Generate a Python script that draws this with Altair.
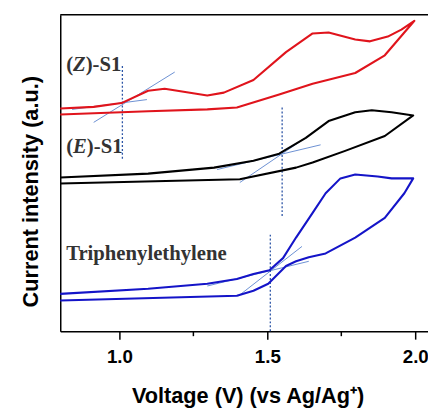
import altair as alt
import pandas as pd

# ---- data (voltage in V, current in a.u.) ----
# (Z)-S1  (red): forward branch then return branch
z_v = [0.800, 0.913, 1.007, 1.097, 1.153, 1.297, 1.353, 1.453, 1.563, 1.653, 1.707, 1.797, 1.847, 1.907, 1.953, 1.997,
       1.897, 1.797, 1.653, 1.540, 1.397, 1.297, 1.097, 0.800]
z_i = [70.4, 70.9, 72.1, 76.0, 76.6, 74.5, 75.4, 79.4, 88.2, 94.1, 94.4, 92.2, 91.6, 93.1, 95.3, 98.1,
       87.2, 81.6, 78.2, 74.8, 70.7, 70.1, 69.5, 68.5]
# (E)-S1  (black)
e_v = [0.800, 1.097, 1.320, 1.453, 1.540, 1.630, 1.707, 1.797, 1.853, 1.920, 1.993,
       1.897, 1.763, 1.653, 1.597, 1.407, 0.800]
e_i = [48.6, 49.8, 51.7, 53.9, 56.1, 61.1, 66.4, 69.2, 69.8, 69.2, 68.2,
       61.7, 57.0, 53.3, 51.7, 48.0, 46.7]
# Triphenylethylene (blue)
t_v = [0.800, 1.097, 1.297, 1.397, 1.453, 1.507, 1.553, 1.597, 1.653, 1.697, 1.747, 1.797, 1.873, 1.920, 1.993,
       1.963, 1.897, 1.797, 1.697, 1.640, 1.597, 1.563, 1.503, 1.453, 1.397, 0.800]
t_i = [11.8, 13.4, 15.0, 16.5, 18.1, 19.3, 23.1, 29.6, 37.4, 43.6, 48.3, 49.5, 48.9, 48.3, 48.3,
       43.6, 35.8, 29.6, 24.6, 23.4, 22.1, 20.6, 15.0, 12.8, 11.2, 9.7]

series_names = ["(Z)-S1", "(E)-S1", "Triphenylethylene"]
series_colors = ["#e0141c", "#000000", "#1414c8"]

# tangent lines (pairs of end points)
tan_seg = ["z1", "z1", "z2", "z2", "e1", "e1", "e2", "e2", "t1", "t1", "t2", "t2"]
tan_v = [0.913, 1.187, 0.840, 1.093, 1.330, 1.680, 1.407, 1.657, 1.297, 1.640, 1.403, 1.617]
tan_i = [66.0, 81.9, 70.1, 73.2, 51.1, 58.9, 47.0, 62.9, 14.3, 22.1, 11.2, 26.8]

# onset potentials (dotted verticals)
onset_v = [1.01, 1.55, 1.51]
onset_lo = [54.5, 36.4, 0.0]
onset_hi = [84.1, 70.7, 30.5]

x_ticks = [1.0, 1.5, 2.0]
x_minor = [1.25, 1.75]

W, H = 373, 321

rows = []
for name, vs, cs in zip(series_names, [z_v, e_v, t_v], [z_i, e_i, t_i]):
    for k, (v, c) in enumerate(zip(vs, cs)):
        rows.append({"series": name, "V": v, "I": c, "k": k})
curves = pd.DataFrame(rows)

tangents = pd.DataFrame({"seg": tan_seg, "V": tan_v, "I": tan_i, "k": list(range(len(tan_v)))})
onsets = pd.DataFrame({"V": onset_v, "I": onset_lo, "I2": onset_hi})
minor = pd.DataFrame({"V": x_minor})
dummy = pd.DataFrame({"V": [1.0]})

x_scale = alt.Scale(domain=[0.8, 2.043], nice=False, zero=False)
y_scale = alt.Scale(domain=[0, 100], nice=False, zero=False)

X = alt.X("V:Q", scale=x_scale, axis=alt.Axis(
    values=x_ticks, format=".1f", title="Voltage (V) (vs Ag/Ag\u207a)",
    grid=False, tickSize=8, tickWidth=1.5, tickColor="black",
    domainWidth=1.5, domainColor="black",
    labelFont="Liberation Sans", labelFontWeight="bold", labelFontSize=19,
    labelColor="black", labelPadding=9,
    titleFont="Liberation Sans", titleFontWeight="bold", titleFontSize=22,
    titleColor="black", titleX=190, titleY=72, titleAlign="center",
    titleBaseline="alphabetic"))
Y = alt.Y("I:Q", scale=y_scale, axis=alt.Axis(
    title="Current intensity (a.u.)", ticks=False, labels=False, grid=False,
    domainWidth=1.5, domainColor="black",
    titleFont="Liberation Sans", titleFontWeight="bold", titleFontSize=22,
    titleColor="black", titleAngle=270, titleX=-23.5, titleY=179,
    titleAlign="center", titleBaseline="alphabetic"))

curve_layer = alt.Chart(curves).mark_line(strokeWidth=2.1, strokeJoin="round").encode(
    x=X, y=Y, order="k:Q",
    color=alt.Color("series:N", scale=alt.Scale(domain=series_names, range=series_colors), legend=None),
)

tan_layer = alt.Chart(tangents).mark_line(strokeWidth=1, color="#6b8fd2").encode(
    x=X, y=Y, detail="seg:N", order="k:Q")

onset_layer = alt.Chart(onsets).mark_rule(strokeDash=[2, 2], strokeWidth=1.3, color="#2d55a6").encode(
    x=X, y=Y, y2="I2:Q")

minor_layer = alt.Chart(minor).mark_rule(color="black", strokeWidth=1.5).encode(
    x=X, y=alt.value(H), y2=alt.value(H + 5))

top_layer = alt.Chart(dummy).mark_rule(color="black", strokeWidth=1.5).encode(
    x=alt.value(0), x2=alt.value(W), y=alt.value(0))


def label(text, v, i, dx=0, italic=False):
    return alt.Chart(pd.DataFrame({"V": [v], "I": [i], "t": [text]})).mark_text(
        font="Liberation Serif", fontWeight="bold", fontSize=21,
        fontStyle="italic" if italic else "normal",
        color="#333333", align="left", baseline="alphabetic", dx=dx,
    ).encode(x=X, y=Y, text="t:N")


label_v = 0.82
z_lab_i, e_lab_i, t_lab_i = 82.2, 56.4, 22.4
labels = [
    label("(", label_v, z_lab_i), label("Z", label_v, z_lab_i, dx=7.0, italic=True),
    label(")-S1", label_v, z_lab_i, dx=19.8),
    label("(", label_v, e_lab_i), label("E", label_v, e_lab_i, dx=7.0, italic=True),
    label(")-S1", label_v, e_lab_i, dx=21.0),
    label("Triphenylethylene", label_v, t_lab_i),
]

chart = alt.layer(top_layer, minor_layer, tan_layer, onset_layer, curve_layer, *labels).properties(
    width=W, height=H,
    autosize=alt.AutoSizeParams(type="none"),
    padding={"left": 53, "top": 4, "right": 0, "bottom": 76},
).configure_view(stroke=None)

chart.save("out.html", embed_options={"renderer": "svg", "actions": False})
